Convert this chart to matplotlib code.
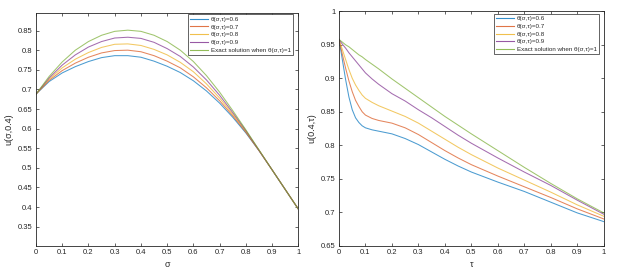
import matplotlib
matplotlib.use("Agg")
import matplotlib.pyplot as plt
from matplotlib.ticker import FixedLocator, FuncFormatter

plt.rcParams['font.family'] = ['Liberation Sans', 'DejaVu Sans']

# ---------------- data ----------------
sigma = [0.00, 0.05, 0.10, 0.15, 0.20, 0.25, 0.30, 0.35, 0.40, 0.45, 0.50,
         0.55, 0.60, 0.65, 0.70, 0.75, 0.80, 0.85, 0.90, 0.95, 1.00]
u_sig_06 = [0.688, 0.720, 0.742, 0.758, 0.771, 0.781, 0.786, 0.786, 0.782, 0.772, 0.759,
            0.743, 0.722, 0.696, 0.665, 0.629, 0.589, 0.544, 0.495, 0.445, 0.395]
u_sig_07 = [0.688, 0.723, 0.748, 0.767, 0.782, 0.793, 0.799, 0.800, 0.796, 0.786, 0.772,
            0.755, 0.732, 0.704, 0.671, 0.633, 0.591, 0.544, 0.495, 0.445, 0.395]
u_sig_08 = [0.688, 0.726, 0.755, 0.777, 0.794, 0.807, 0.815, 0.816, 0.812, 0.802, 0.788,
            0.769, 0.745, 0.714, 0.678, 0.637, 0.593, 0.545, 0.495, 0.445, 0.395]
u_sig_09 = [0.688, 0.729, 0.762, 0.788, 0.808, 0.822, 0.831, 0.833, 0.830, 0.820, 0.804,
            0.784, 0.757, 0.724, 0.685, 0.641, 0.595, 0.545, 0.495, 0.445, 0.395]
u_sig_ex = [0.688, 0.733, 0.770, 0.800, 0.822, 0.838, 0.848, 0.851, 0.848, 0.838, 0.822,
            0.800, 0.771, 0.735, 0.693, 0.646, 0.597, 0.546, 0.495, 0.445, 0.395]

tau = [0, 0.0125, 0.025, 0.0375, 0.05, 0.0625, 0.075, 0.0875, 0.1, 0.125, 0.15, 0.2,
       0.25, 0.3, 0.35, 0.4, 0.45, 0.5, 0.6, 0.7, 0.8, 0.9, 1.0]
u_tau_06 = [0.958, 0.928, 0.898, 0.872, 0.853, 0.841, 0.834, 0.829, 0.826, 0.823, 0.821, 0.817,
            0.810, 0.801, 0.790, 0.779, 0.769, 0.760, 0.745, 0.731, 0.715, 0.699, 0.686]
u_tau_07 = [0.958, 0.936, 0.915, 0.896, 0.880, 0.867, 0.858, 0.850, 0.845, 0.840, 0.837, 0.833,
            0.826, 0.816, 0.804, 0.792, 0.781, 0.771, 0.754, 0.738, 0.722, 0.705, 0.690]
u_tau_08 = [0.958, 0.943, 0.928, 0.913, 0.900, 0.890, 0.882, 0.875, 0.870, 0.864, 0.859, 0.851,
            0.843, 0.833, 0.821, 0.809, 0.797, 0.786, 0.766, 0.748, 0.730, 0.711, 0.694]
u_tau_09 = [0.958, 0.951, 0.945, 0.938, 0.932, 0.926, 0.920, 0.914, 0.908, 0.899, 0.891, 0.877,
            0.866, 0.853, 0.841, 0.828, 0.815, 0.803, 0.781, 0.760, 0.740, 0.718, 0.697]
u_tau_ex = [0.958, 0.954, 0.950, 0.947, 0.943, 0.939, 0.935, 0.932, 0.928, 0.921, 0.914, 0.899,
            0.885, 0.871, 0.857, 0.843, 0.830, 0.817, 0.792, 0.767, 0.743, 0.720, 0.699]

labels = ['θ(σ,τ)=0.6', 'θ(σ,τ)=0.7', 'θ(σ,τ)=0.8', 'θ(σ,τ)=0.9',
          'Exact solution when θ(σ,τ)=1']
colors = ['#0072BD', '#D95319', '#EDB120', '#7E2F8E', '#77AC30']

x_ticks = [0, 0.1, 0.2, 0.3, 0.4, 0.5, 0.6, 0.7, 0.8, 0.9, 1.0]
y_ticks_left = [0.35, 0.4, 0.45, 0.5, 0.55, 0.6, 0.65, 0.7, 0.75, 0.8, 0.85]
y_ticks_right = [0.65, 0.7, 0.75, 0.8, 0.85, 0.9, 0.95, 1.0]

# ---------------- figure ----------------
fig = plt.figure(figsize=(6.39, 2.73), dpi=100)
axL = fig.add_axes([36/639, 1 - 245.7/273, 262.3/639, 232.4/273])
axR = fig.add_axes([339/639, 1 - 245.7/273, 264.7/639, 234.4/273])

fmt = FuncFormatter(lambda v, p: ('%g' % round(v, 4)))
axis_col = '#262626'
fs = 5.5
lfs = 4.5


def style(ax, xt, yt, xlim, ylim, xlabel, ylabel):
    ax.set_xlim(*xlim)
    ax.set_ylim(*ylim)
    ax.xaxis.set_major_locator(FixedLocator(xt))
    ax.yaxis.set_major_locator(FixedLocator(yt))
    ax.xaxis.set_major_formatter(fmt)
    ax.yaxis.set_major_formatter(fmt)
    ax.tick_params(direction='in', length=2.5, width=0.5, colors=axis_col,
                   labelsize=fs, top=True, right=True, pad=2.5)
    for s in ax.spines.values():
        s.set_linewidth(0.6)
        s.set_color(axis_col)
    ax.set_xlabel(xlabel, fontsize=6.5, color=axis_col, labelpad=3)
    ax.set_ylabel(ylabel, fontsize=6.5, color=axis_col, labelpad=3)


series_L = [u_sig_06, u_sig_07, u_sig_08, u_sig_09, u_sig_ex]
for ys, c, lab in zip(series_L, colors, labels):
    axL.plot(sigma, ys, color=c, lw=0.75, alpha=0.7, label=lab)
style(axL, x_ticks, y_ticks_left, (0, 1), (0.3015, 0.894), 'σ', 'u(σ,0.4)')

series_R = [u_tau_06, u_tau_07, u_tau_08, u_tau_09, u_tau_ex]
for ys, c, lab in zip(series_R, colors, labels):
    axR.plot(tau, ys, color=c, lw=0.75, alpha=0.7, label=lab)
style(axR, x_ticks, y_ticks_right, (0, 1), (0.65, 1.0), 'τ', 'u(0.4,τ)')

for ax, anchor in ((axL, ((293 - 36) / 262.3, 0.996)), (axR, ((599.3 - 339) / 264.7, 0.99))):
    leg = ax.legend(loc='upper right', bbox_to_anchor=anchor, borderaxespad=0,
                    fontsize=lfs, frameon=True, fancybox=False, framealpha=1,
                    edgecolor=axis_col, handlelength=2.9, handletextpad=0.45,
                    labelspacing=0.38, borderpad=0.35)
    leg.get_frame().set_linewidth(0.5)
    for h in leg.get_lines():
        h.set_alpha(0.8)
        h.set_linewidth(0.8)
    for t in leg.get_texts():
        t.set_color(axis_col)

fig.savefig('out.png', dpi=100)
